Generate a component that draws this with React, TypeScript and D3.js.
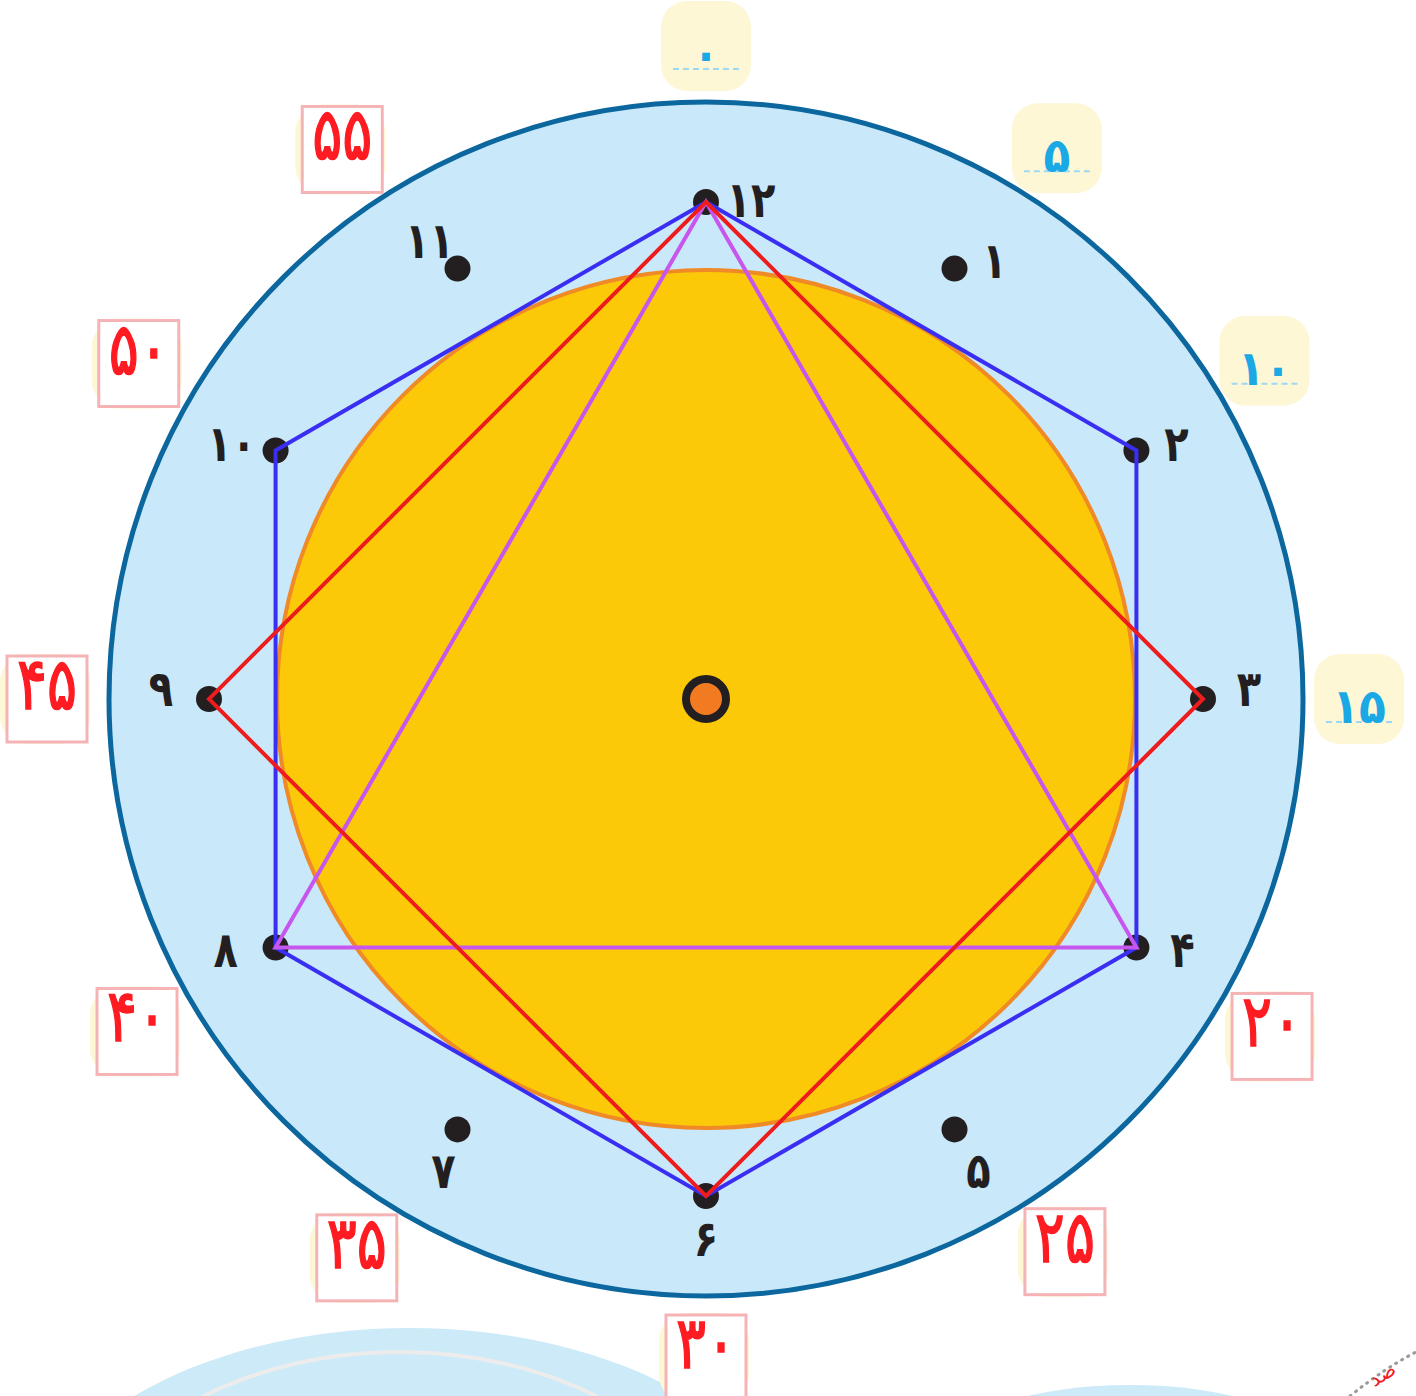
import React from 'react';
import * as d3 from 'd3';

// hour marks on the face, Persian digits
const hourValues = [1, 2, 3, 4, 5, 6, 7, 8, 9, 10, 11, 12];
const hourLabels = ['۱', '۲', '۳', '۴', '۵', '۶', '۷', '۸', '۹', '۱۰', '۱۱', '۱۲'];

// minute ring labels (every 5 minutes)
const minuteValues = [0, 5, 10, 15, 20, 25, 30, 35, 40, 45, 50, 55];
const minuteLabels = ['۰', '۵', '۱۰', '۱۵', '۲۰', '۲۵', '۳۰', '۳۵', '۴۰', '۴۵', '۵۰', '۵۵'];
const highlightedMinutes = [0, 5, 10, 15]; // blue ones, rest are red boxes

// polygons joining hours
const hexagonHours = [12, 2, 4, 6, 8, 10];
const squareHours = [12, 3, 6, 9];
const triangleHours = [12, 4, 8];

// the boxes aren't placed exactly on the minute angle in the artwork
const minuteNudgeDeg = [0, 2.5, -1.2, 0, 0.8, -3, 0, 2, -0.3, 0, 0.6, -3.5];

// where each hour label sits relative to its dot
const labelNudge: Record<number, [number, number]> = {
  1: [40, -8], 2: [40, -7], 3: [46, -10], 4: [46, 2], 5: [24, 42], 6: [0, 43],
  7: [-14, 42], 8: [-50, 2], 9: [-48, -10], 10: [-44, -7], 11: [-28, -28], 12: [45, -2],
};

const W = 1416;
const H = 1396;
const cx = 706;
const cy = 699;

const hourAngle = d3.scaleLinear().domain([0, 12]).range([0, 2 * Math.PI]);
const minuteAngle = d3.scaleLinear().domain([0, 60]).range([0, 2 * Math.PI]);

const polar = (angle: number, r: number): [number, number] => [
  cx + r * Math.sin(angle),
  cy - r * Math.cos(angle),
];

const OUTER_R = 597;
const FACE_R = 429;
const DOT_R = 497;
const BLUE_R = 653;
const RED_R = 659;

export default function App() {
  const hourPt = (h: number) => polar(hourAngle(h % 12), DOT_R);
  const line = d3.line<number>().x(h => hourPt(h)[0]).y(h => hourPt(h)[1]).curve(d3.curveLinearClosed);

  const font = '"DejaVu Sans", sans-serif';

  return (
    <svg width={W} height={H} style={{ position: 'absolute', left: 0, top: 0, background: '#fff' }}>
      {/* bits of neighbouring artwork cut off at the bottom */}
      <ellipse cx={410} cy={1560} rx={390} ry={232} fill="#cdeaf9" />
      <ellipse cx={400} cy={1585} rx={335} ry={233} fill="none" stroke="#ececec" strokeWidth={4} />
      <ellipse cx={1130} cy={1440} rx={170} ry={55} fill="#cdeaf9" />
      <path d="M1350,1396 Q1385,1368 1416,1352" fill="none" stroke="#999" strokeWidth={3} strokeDasharray="1 6" strokeLinecap="round" />
      <text x={1386} y={1380} fill="#ee1c25" fontFamily={font} fontSize={20} textAnchor="middle" transform="rotate(-32 1386 1380)">صد</text>

      {/* outer dial */}
      <circle cx={cx} cy={cy} r={OUTER_R} fill="#c9e8f9" stroke="#0b679e" strokeWidth={5} />
      <circle cx={cx} cy={cy} r={FACE_R} fill="#fbc908" stroke="#ef8a26" strokeWidth={4} />

      {/* minute labels */}
      {minuteValues.map((m, i) => {
        const a = minuteAngle(m) + (minuteNudgeDeg[i] * Math.PI) / 180;
        if (highlightedMinutes.includes(m)) {
          const [x, y] = polar(a, BLUE_R);
          return (
            <g key={m}>
              <rect x={x - 45} y={y - 45} width={90} height={90} rx={26} fill="#fdf7d6" />
              <line x1={x - 33} x2={x + 35} y1={y + 23} y2={y + 23} stroke="#9fd8f4" strokeWidth={2} strokeDasharray="6 4" />
              <text transform={`translate(${x},${y + 24}) scale(1,1.1)`} fill="#1ba9e6" fontFamily={font}
                fontSize={44} fontWeight="bold" letterSpacing={4} textAnchor="middle">
                {minuteLabels[i]}
              </text>
            </g>
          );
        }
        const [x, y] = polar(a, RED_R);
        return (
          <g key={m}>
            <rect x={x - 47} y={y - 45} width={90} height={90} rx={28} fill="#fdf7d6" />
            <rect x={x - 40} y={y - 43} width={80} height={86} fill="#fff" stroke="#f6b3b5" strokeWidth={3} />
            <text transform={`translate(${x},${y + 10}) scale(1,1.3)`} fill="#fe1b22" stroke="#fe1b22" strokeWidth={1.2}
              fontFamily={font} fontSize={56} letterSpacing={3} textAnchor="middle">
              {minuteLabels[i]}
            </text>
          </g>
        );
      })}

      {/* hour dots and labels */}
      {hourValues.map((h, i) => {
        const [x, y] = hourPt(h);
        const [dx, dy] = labelNudge[h];
        return (
          <g key={h}>
            <circle cx={x} cy={y} r={13} fill="#231f20" />
            <text transform={`translate(${x + dx},${y + dy + 17}) scale(1,1.25)`} fill="#231f20" fontFamily={font}
              fontSize={40} fontWeight="bold" textAnchor="middle">
              {hourLabels[i]}
            </text>
          </g>
        );
      })}

      {/* shapes */}
      <path d={line(hexagonHours) || ''} fill="none" stroke="#3a2ef2" strokeWidth={4} />
      <path d={line(triangleHours) || ''} fill="none" stroke="#c756ee" strokeWidth={4} />
      <path d={line(squareHours) || ''} fill="none" stroke="#ee1c1c" strokeWidth={4} />

      {/* centre pin */}
      <circle cx={cx} cy={cy} r={20} fill="#f27b22" stroke="#231f20" strokeWidth={8} />
    </svg>
  );
}
